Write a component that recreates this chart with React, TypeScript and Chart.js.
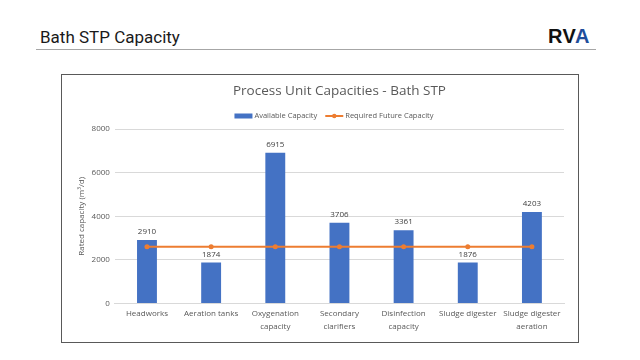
import React, { useEffect, useRef } from "react";
import { Chart, registerables } from "chart.js";

Chart.register(...registerables);

const categories: (string | string[])[] = [
  "Headworks",
  "Aeration tanks",
  ["Oxygenation", "capacity"],
  ["Secondary", "clarifiers"],
  ["Disinfection", "capacity"],
  "Sludge digester",
  ["Sludge digester", "aeration"],
];
const availableCapacity = [2910, 1874, 6915, 3706, 3361, 1876, 4203];
const requiredFutureCapacity = [2600, 2600, 2600, 2600, 2600, 2600, 2600];
const yTicks = [0, 2000, 4000, 6000, 8000];

const FONT = "'Open Sans', 'Noto Sans', sans-serif";
const BLUE = "#4472C4";
const ORANGE = "#ED7D31";
const GREY = "#595959";

const labelPlugin = {
  id: "barLabels",
  afterDatasetsDraw(chart: any) {
    const ctx = chart.ctx;
    const meta = chart.getDatasetMeta(0);
    ctx.save();
    ctx.font = `8px ${FONT}`;
    ctx.fillStyle = "#404040";
    ctx.textAlign = "center";
    ctx.textBaseline = "bottom";
    meta.data.forEach((bar: any, i: number) => {
      ctx.fillText(String(availableCapacity[i]), bar.x, bar.y - 4);
    });
    ctx.restore();
  },
};

const legendPlugin = {
  id: "customLegend",
  afterDraw(chart: any) {
    const ctx = chart.ctx;
    const y = 41;
    const cx = chart.width / 2 + 14;
    ctx.save();
    ctx.font = `7.5px ${FONT}`;
    ctx.textBaseline = "middle";
    const t1 = chart.data.datasets[0].label;
    const t2 = chart.data.datasets[1].label;
    const w1 = ctx.measureText(t1).width;
    const w2 = ctx.measureText(t2).width;
    const total = 18 + 2 + w1 + 8 + 18 + 2 + w2;
    let x = cx - total / 2;
    ctx.fillStyle = BLUE;
    ctx.fillRect(x, y - 2.5, 18, 5);
    x += 20;
    ctx.fillStyle = GREY;
    ctx.fillText(t1, x, y);
    x += w1 + 8;
    ctx.strokeStyle = ORANGE;
    ctx.lineWidth = 2;
    ctx.beginPath();
    ctx.moveTo(x, y);
    ctx.lineTo(x + 18, y);
    ctx.stroke();
    ctx.fillStyle = ORANGE;
    ctx.beginPath();
    ctx.arc(x + 9, y, 2.2, 0, Math.PI * 2);
    ctx.fill();
    x += 20;
    ctx.fillStyle = GREY;
    ctx.fillText(t2, x, y);
    ctx.restore();
  },
};

export default function App() {
  const ref = useRef<HTMLCanvasElement>(null);
  useEffect(() => {
    if (!ref.current) return;
    const chart = new Chart(ref.current, {
      type: "bar",
      data: {
        labels: categories,
        datasets: [
          {
            type: "bar",
            label: "Available Capacity",
            data: availableCapacity,
            backgroundColor: BLUE,
            barPercentage: 0.62,
            categoryPercentage: 0.5,
            order: 2,
          },
          {
            type: "line",
            label: "Required Future Capacity",
            data: requiredFutureCapacity,
            borderColor: ORANGE,
            backgroundColor: ORANGE,
            borderWidth: 2,
            pointRadius: 2.5,
            pointBackgroundColor: ORANGE,
            pointBorderWidth: 0,
            order: 1,
          },
        ] as any,
      },
      options: {
        animation: false,
        responsive: false,
        layout: { padding: { left: 15, right: 14, top: 0, bottom: 5 } },
        plugins: {
          legend: { display: false },
          tooltip: { enabled: false },
          title: {
            display: true,
            fullSize: false,
            text: "Process Unit Capacities - Bath STP",
            color: GREY,
            font: { family: FONT, size: 13.5, weight: "normal" },
            padding: { top: 8, bottom: 30 },
          },
        },
        scales: {
          x: {
            grid: { display: false, drawTicks: false },
            border: { color: "#D9D9D9" },
            ticks: {
              color: GREY,
              font: { family: FONT, size: 8, lineHeight: 1.6 },
              maxRotation: 0,
              autoSkip: false,
              padding: 4,
            },
          },
          y: {
            min: 0,
            max: 8000,
            afterBuildTicks(scale: any) {
              scale.ticks = yTicks.map((v) => ({ value: v }));
            },
            grid: { color: "#D9D9D9", drawTicks: false },
            border: { display: false },
            ticks: {
              color: GREY,
              font: { family: FONT, size: 8 },
              padding: 5,
              callback: (v: any) => String(v),
            },
            title: {
              display: true,
              text: "Rated capacity (m³/d)",
              color: GREY,
              font: { family: FONT, size: 8 },
              padding: { top: 0, bottom: 0 },
            },
          },
        },
      },
      plugins: [labelPlugin, legendPlugin],
    });
    return () => chart.destroy();
  }, []);

  return (
    <div style={{ position: "relative", width: 624, height: 344, fontFamily: FONT }}>
      <div
        style={{
          position: "absolute",
          left: 32,
          top: 19,
          fontFamily: "Roboto, 'Liberation Sans', sans-serif",
          fontSize: 17,
          color: "#1a1a1a",
        }}
      >
        Bath STP Capacity
      </div>
      <div
        style={{
          position: "absolute",
          left: 28,
          top: 41,
          width: 560,
          height: 1,
          background: "#A6A6A6",
        }}
      />
      <div
        style={{
          position: "absolute",
          left: 540,
          top: 17,
          fontFamily: "'Liberation Sans', Roboto, sans-serif",
          fontWeight: "bold",
          fontSize: 20,
          letterSpacing: 0.5,
          color: "#111",
        }}
      >
        RV<span style={{ color: "#1F4E9C" }}>A</span>
      </div>
      <div
        style={{
          position: "absolute",
          left: 53,
          top: 66,
          width: 516,
          height: 267,
          border: "1px solid #595959",
          background: "#fff",
        }}
      >
        <canvas ref={ref} width={516} height={267} />
      </div>
    </div>
  );
}
